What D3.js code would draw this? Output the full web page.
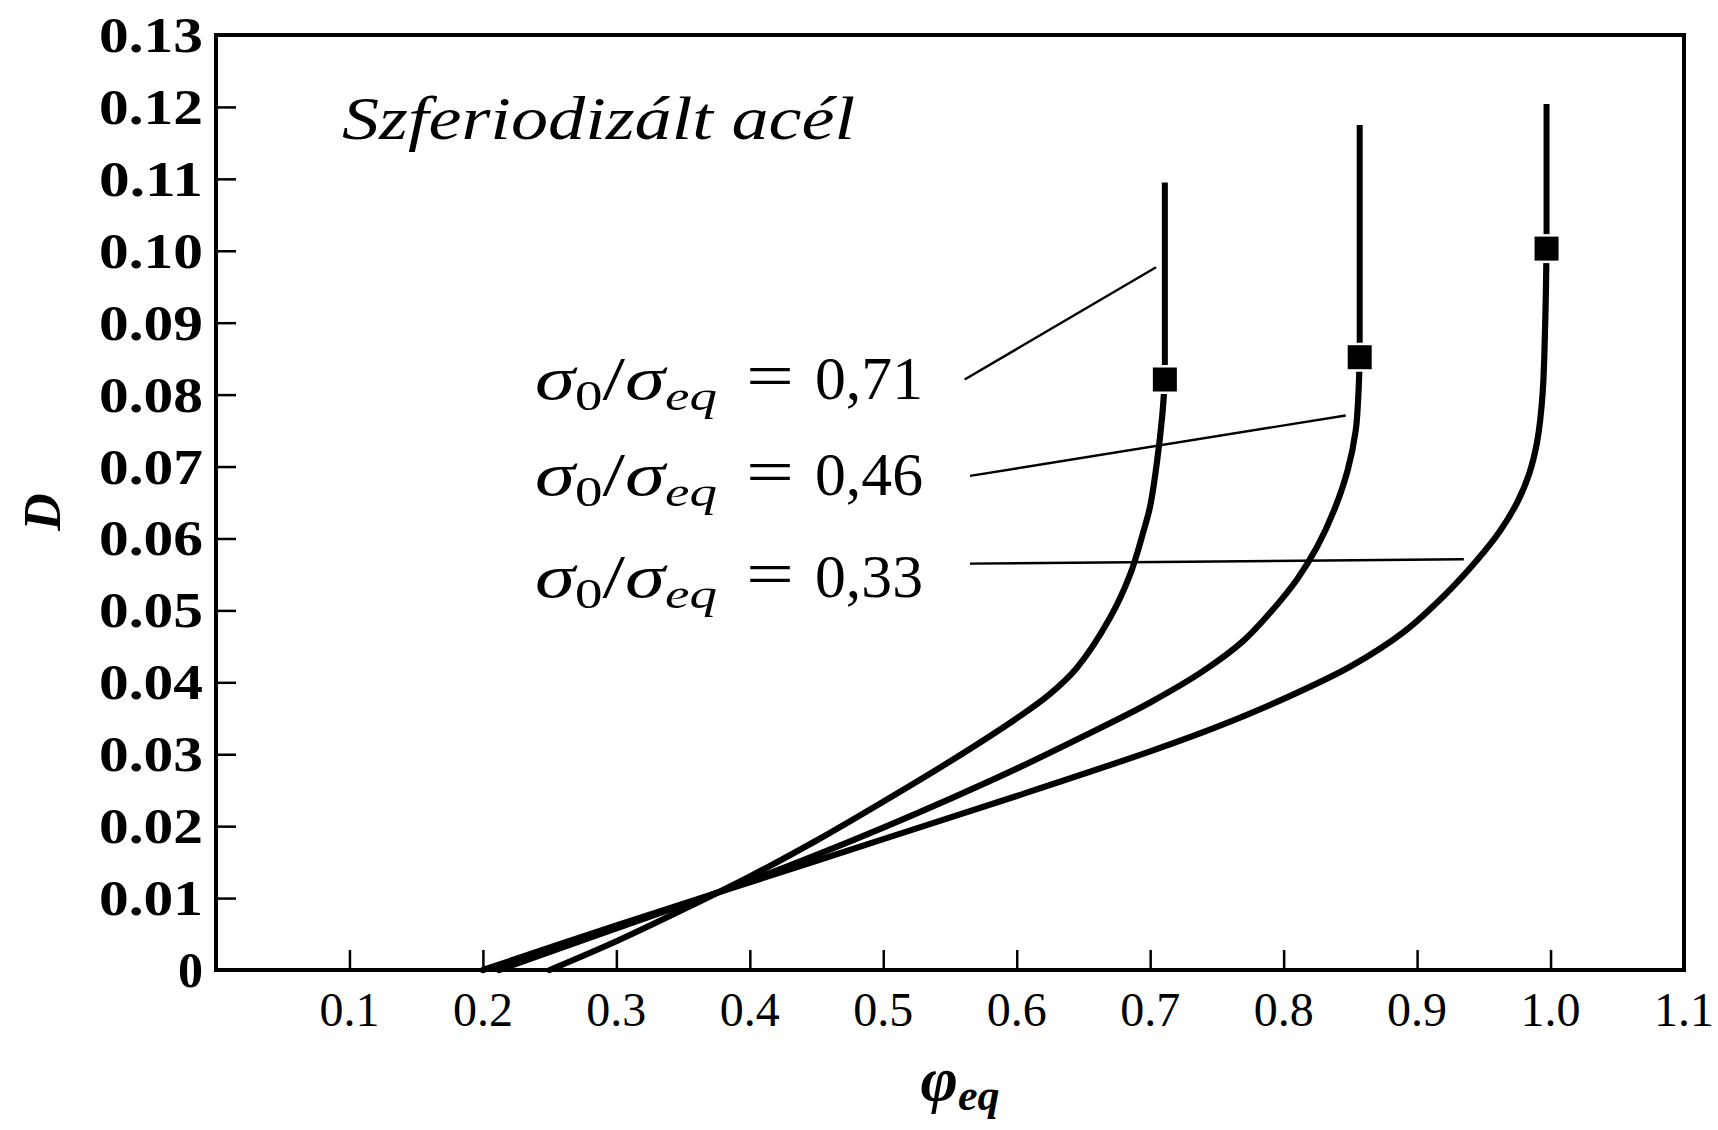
<!DOCTYPE html>
<html><head><meta charset="utf-8">
<script src="https://cdn.jsdelivr.net/npm/d3@7"></script>
<style>html,body{margin:0;padding:0;background:#fff;}</style>
</head><body>
<svg id="c" width="1718" height="1130"></svg>
<script>
// ---- data ----
const xTicks = [0.1,0.2,0.3,0.4,0.5,0.6,0.7,0.8,0.9,1.0,1.1];
const xTickLabels = ["0.1","0.2","0.3","0.4","0.5","0.6","0.7","0.8","0.9","1.0","1.1"];
const yTicks = [0,0.01,0.02,0.03,0.04,0.05,0.06,0.07,0.08,0.09,0.10,0.11,0.12,0.13];
const yTickLabels = ["0","0.01","0.02","0.03","0.04","0.05","0.06","0.07","0.08","0.09","0.10","0.11","0.12","0.13"];

const seriesNames = ["0,71","0,46","0,33"];
// curve σ0/σeq = 0.71
const phi071 = [0.250,0.30,0.35,0.40,0.45,0.50,0.55,0.60,0.625,0.645,0.67,0.685,0.695,0.700,0.705,0.709];
const D071   = [0.000,0.0040,0.0084,0.0130,0.0180,0.0234,0.0290,0.0350,0.0384,0.0420,0.0490,0.0550,0.0610,0.0645,0.0705,0.0770];
// curve σ0/σeq = 0.46
const phi046 = [0.212,0.30,0.40,0.45,0.50,0.55,0.60,0.65,0.70,0.74,0.77,0.79,0.81,0.825,0.838,0.848,0.854,0.856];
const D046   = [0.000,0.0058,0.0124,0.0160,0.0198,0.0238,0.0280,0.0325,0.0372,0.0416,0.0458,0.0497,0.0543,0.0588,0.0640,0.0695,0.0750,0.0800];
// curve σ0/σeq = 0.33
const phi033 = [0.200,0.30,0.40,0.50,0.60,0.70,0.75,0.80,0.85,0.89,0.92,0.945,0.962,0.975,0.984,0.990,0.994,0.996];
const D033   = [0.000,0.0062,0.0122,0.0182,0.0242,0.0304,0.0338,0.0377,0.0422,0.0470,0.0520,0.0570,0.0610,0.0650,0.0690,0.0735,0.0800,0.0900];
// failure markers (phi, D) and tops of the vertical segments
const markerPhi = [0.711,0.857,0.997];
const markerD   = [0.0821,0.0852,0.1003];
const topD      = [0.1095,0.1175,0.1204];
// leader lines from labels to curves
const leaderPhi0 = [0.561,0.565,0.565];
const leaderD0   = [0.0821,0.0687,0.0565];
const leaderPhi1 = [0.7044,0.8465,0.935];
const leaderD1   = [0.0977,0.0771,0.0571];

// ---- layout ----
const svg = d3.select("#c");
const L=216, R=1684, T=35, B=970;
const x = d3.scaleLinear().domain([0,1.1]).range([L,R]);
const y = d3.scaleLinear().domain([0,0.13]).range([B,T]);

// frame
svg.append("rect").attr("x",x(0)).attr("y",y(0.13)).attr("width",x(1.1)-x(0)).attr("height",y(0)-y(0.13))
  .attr("fill","none").attr("stroke","#000").attr("stroke-width",4);

// bottom axis ticks (inward)
const xa = svg.append("g").attr("transform",`translate(0,${B})`)
  .call(d3.axisBottom(x).tickValues(xTicks.slice(0,-1)).tickSize(-20).tickFormat(""));
xa.select(".domain").remove();
xa.selectAll("line").attr("stroke","#000").attr("stroke-width",2.5);
svg.append("g").selectAll("text").data(xTicks).join("text")
  .attr("x",d=>x(d)).attr("y",1026).attr("text-anchor","middle")
  .attr("font-family","Liberation Serif").attr("font-size",48)
  .text((d,i)=>xTickLabels[i]);

// left axis ticks (inward)
const ya = svg.append("g").attr("transform",`translate(${L},0)`)
  .call(d3.axisLeft(y).tickValues(yTicks.slice(1,-1)).tickSize(-20).tickFormat(""));
ya.select(".domain").remove();
ya.selectAll("line").attr("stroke","#000").attr("stroke-width",2.5);
svg.append("g").selectAll("text").data(yTicks).join("text")
  .attr("x",203).attr("y",d=>y(d)+17).attr("text-anchor","end")
  .attr("font-family","Liberation Serif").attr("font-weight","bold").attr("font-size",50)
  .each(function(d,i){ const t=d3.select(this).text(yTickLabels[i]);
     if(yTickLabels[i].length>1) t.attr("textLength",104).attr("lengthAdjust","spacingAndGlyphs"); });

// axis titles
svg.append("text").attr("transform","translate(60,512) rotate(-90)").attr("text-anchor","middle")
  .attr("font-family","Liberation Serif").attr("font-weight","bold").attr("font-style","italic").attr("font-size",52).text("D");
const xt = svg.append("text").attr("x",960).attr("y",1100).attr("text-anchor","middle")
  .attr("font-family","Liberation Serif").attr("font-weight","bold").attr("font-style","italic").attr("font-size",64);
xt.append("tspan").text("φ");
xt.append("tspan").attr("font-size",44).attr("dy",10).text("eq");

// curves
const line = d3.line().x(d=>x(d[0])).y(d=>y(d[1])).curve(d3.curveCatmullRom.alpha(0.5));
const curves = [
  d3.zip(phi071,D071).concat([[markerPhi[0],markerD[0]]]),
  d3.zip(phi046,D046).concat([[markerPhi[1],markerD[1]]]),
  d3.zip(phi033,D033).concat([[markerPhi[2],markerD[2]]])
];
svg.append("g").selectAll("path").data(curves).join("path")
  .attr("d",line).attr("fill","none").attr("stroke","#000").attr("stroke-width",6.2).attr("stroke-linecap","round");
svg.append("g").selectAll("line").data(markerPhi).join("line")
  .attr("x1",d=>x(d)).attr("x2",d=>x(d)).attr("y1",(d,i)=>y(markerD[i])).attr("y2",(d,i)=>y(topD[i]))
  .attr("stroke","#000").attr("stroke-width",6);
svg.append("g").selectAll("rect").data(markerPhi).join("rect")
  .attr("x",d=>x(d)-12).attr("y",(d,i)=>y(markerD[i])-12).attr("width",24).attr("height",24)
  .attr("fill","#000").attr("stroke","#fff").attr("stroke-width",5).attr("paint-order","stroke");

// leader lines
svg.append("g").selectAll("line").data(leaderPhi0).join("line")
  .attr("x1",d=>x(d)).attr("y1",(d,i)=>y(leaderD0[i])).attr("x2",(d,i)=>x(leaderPhi1[i])).attr("y2",(d,i)=>y(leaderD1[i]))
  .attr("stroke","#000").attr("stroke-width",2.4);

// title
svg.append("text").attr("x",342).attr("y",139).attr("font-family","Liberation Serif").attr("font-style","italic")
  .attr("font-size",62).attr("textLength",513).attr("lengthAdjust","spacingAndGlyphs").text("Szferiodizált acél");

// series labels
const labelY = [399,495,597];
seriesNames.forEach((v,i)=>{
  const g = svg.append("g");
  const t = g.append("text").attr("x",535).attr("y",labelY[i]).attr("font-family","Liberation Serif").attr("font-size",62)
    .attr("textLength",182).attr("lengthAdjust","spacingAndGlyphs");
  t.append("tspan").attr("font-style","italic").text("σ");
  t.append("tspan").attr("font-size",42).attr("dy",11).text("0");
  t.append("tspan").attr("dy",-11).text("/");
  t.append("tspan").attr("font-style","italic").text("σ");
  t.append("tspan").attr("font-style","italic").attr("font-size",42).attr("dy",11).text("eq");
  g.append("text").attr("x",746).attr("y",labelY[i]-2).attr("font-family","Liberation Serif")
    .attr("font-size",64).attr("textLength",48).attr("lengthAdjust","spacingAndGlyphs").text("=");
  g.append("text").attr("x",815).attr("y",labelY[i]).attr("font-family","Liberation Serif").attr("font-size",62)
    .attr("textLength",108).attr("lengthAdjust","spacingAndGlyphs").text(v);
});
</script>
</body></html>
